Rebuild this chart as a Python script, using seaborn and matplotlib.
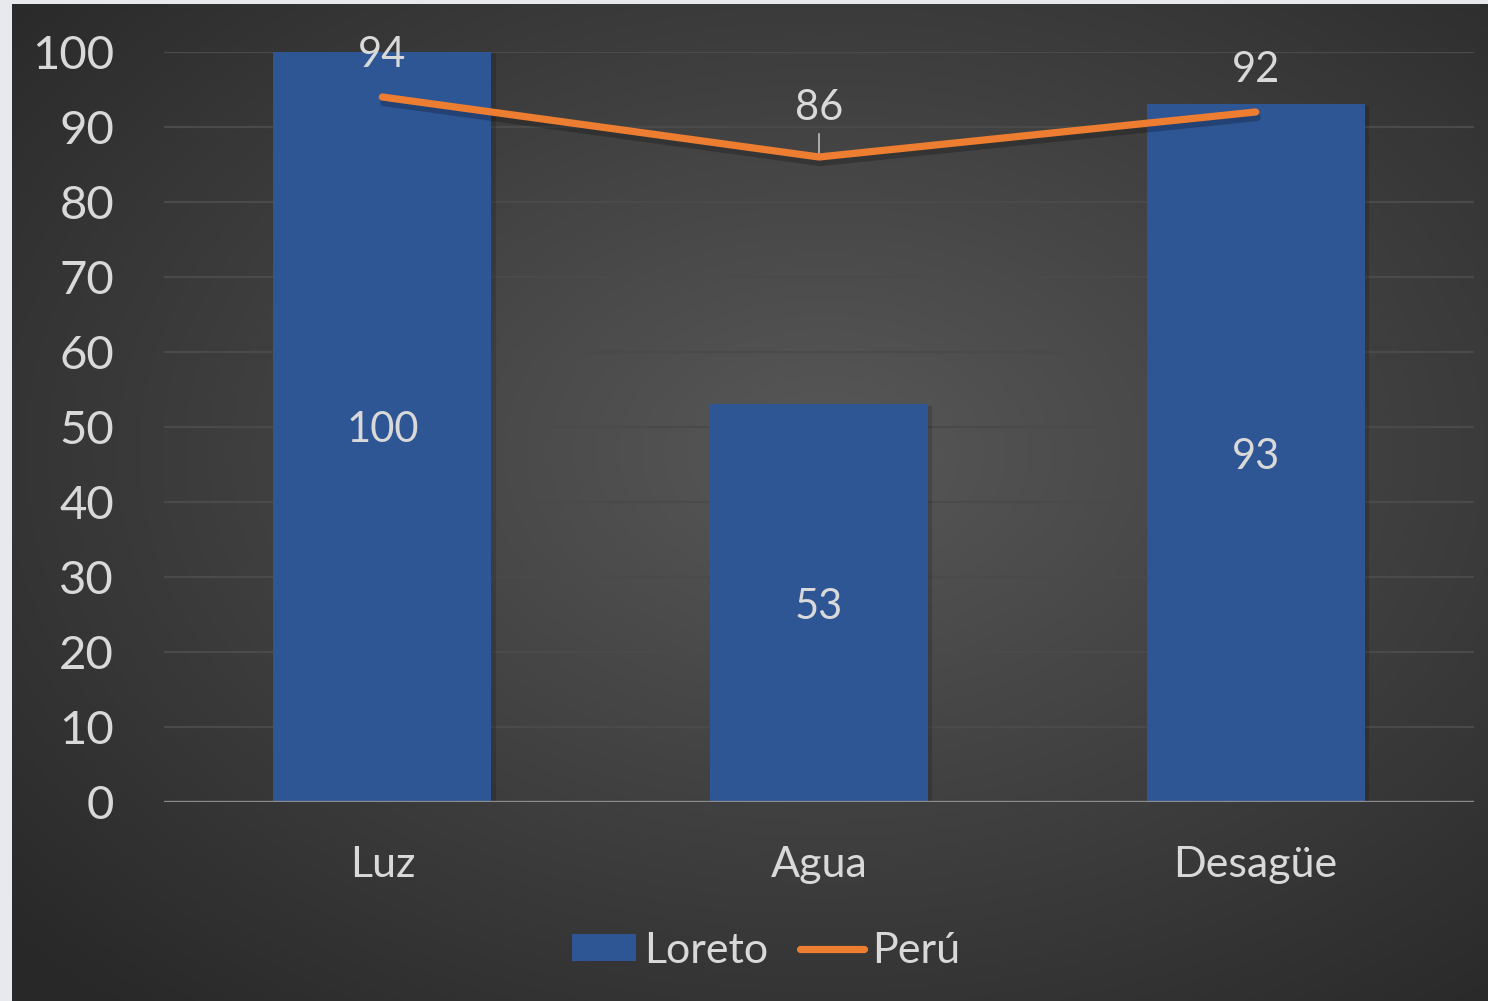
import numpy as np
import matplotlib
matplotlib.use("Agg")
import matplotlib.pyplot as plt
import matplotlib.patheffects as pe
import seaborn as sns
from matplotlib.patches import Patch
from matplotlib.lines import Line2D

categories = ["Luz", "Agua", "Desagüe"]
loreto = [100, 53, 93]
peru = [94, 86, 92]
yticks = [0, 10, 20, 30, 40, 50, 60, 70, 80, 90, 100]

sns.set_theme(style="dark")
plt.rcParams["font.family"] = ["Lato", "DejaVu Sans"]

W, H = 1488, 1001
FS_Y = 34
FS_X = 31
FS_LBL = 30
FS_LEG = 31
fig = plt.figure(figsize=(W / 100, H / 100), dpi=100, facecolor="#e8e9ed")

# background gradient panel
bg = fig.add_axes([12 / W, 0, 1 - 12 / W, 1 - 4 / H], zorder=-10)
yy, xx = np.mgrid[0:1:400j, 0:1:600j]
d = np.sqrt(((xx - 0.55) / 0.75) ** 2 + ((yy - 0.45) / 0.75) ** 2)
val = np.clip(0.345 - 0.19 * d, 0.16, 0.345)
img = np.dstack([val, val, val])
bg.imshow(img, aspect="auto", extent=[0, 1, 0, 1], interpolation="bicubic")
bg.set_axis_off()

ax = fig.add_axes([164 / W, (H - 802) / H, (1474 - 164) / W, (802 - 52) / H])
ax.patch.set_alpha(0)

txt = "#d9d9d9"
bar_color = "#2e5594"
line_color = "#ed7d31"

sns.barplot(x=categories, y=loreto, color=bar_color, saturation=1, width=0.5,
            ax=ax, zorder=2, linewidth=0)
for p in ax.patches:
    p.set_path_effects([pe.SimplePatchShadow(offset=(3, -1), alpha=0.15, shadow_rgbFace="black"), pe.Normal()])

sns.lineplot(x=np.arange(len(peru)), y=peru, color=line_color, linewidth=5.2,
             ax=ax, zorder=4, solid_capstyle="round",
             path_effects=[pe.SimpleLineShadow(offset=(1, -4), alpha=0.22, shadow_color="black"), pe.Normal()])

ax.set_xlim(-0.5, 2.5)
ax.set_ylim(0, 100)
ax.set_yticks(yticks)
ax.set_yticklabels([str(t) for t in yticks])
ax.tick_params(axis="y", length=0, pad=36, labelsize=FS_Y, labelcolor=txt)
ax.tick_params(axis="x", length=0, pad=32, labelsize=FS_X, labelcolor=txt)
ax.set_xlabel("")
ax.set_ylabel("")
for s in ax.spines.values():
    s.set_visible(False)
ax.grid(False)
for t in yticks[1:]:
    ax.axhline(t, color="#4a4a4a", lw=1.6, zorder=1)
ax.axhline(0, color="#8c8c8c", lw=2.4, zorder=3)

# bar labels
texts = ax.bar_label(ax.containers[0], labels=[str(v) for v in loreto], label_type="center",
                     fontsize=FS_LBL, color=txt)
for t in texts:
    t.set_va("center_baseline")

# line labels
offsets = [33, 38, 33]
for i, v in enumerate(peru):
    ax.annotate(str(v), (i, v), xytext=(0, offsets[i]), textcoords="offset points",
                ha="center", va="center_baseline", fontsize=FS_LBL, color=txt, zorder=5)
# leader line for Agua label
ax.annotate("", (1, peru[1]), xytext=(1, peru[1] + 3.1),
            arrowprops=dict(arrowstyle="-", color="#bfbfbf", lw=1.2, shrinkA=0, shrinkB=0))

handles = [Patch(facecolor=bar_color, edgecolor="none"),
           Line2D([0], [0], color=line_color, lw=5.2, solid_capstyle="round")]
fig.legend(handles, ["Loreto", "Perú"], loc="center", bbox_to_anchor=(766 / W, 1 - 951 / H),
           ncol=2, frameon=False, fontsize=FS_LEG, labelcolor=txt, handlelength=1.5,
           handleheight=0.6, handletextpad=0.19, columnspacing=0.72)

fig.savefig("out.png", dpi=100, facecolor=fig.get_facecolor())
